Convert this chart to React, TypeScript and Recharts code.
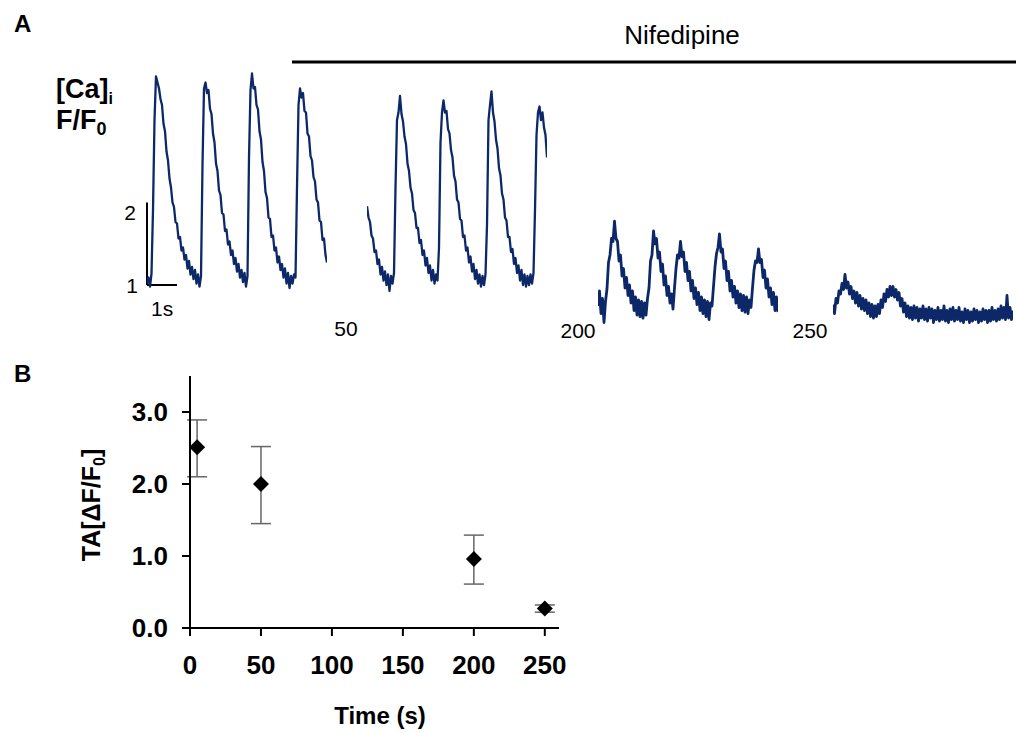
import React from 'react';
import { LineChart, Line, XAxis, YAxis, ReferenceLine, ScatterChart, Scatter, ErrorBar } from 'recharts';

// ---------- Panel A: [Ca]i traces (F/F0), sampled every 0.05 s ----------
const sampleStep = 0.05; // s
const traceControl = [
  1.02, 1.10, 0.98, 1.15, 2.0, 3.2, 3.78, 3.70, 3.62, 3.48,
  3.40, 3.15, 3.05, 2.78, 2.66, 2.42, 2.30, 2.10, 2.04, 1.84,
  1.82, 1.62, 1.64, 1.46, 1.50, 1.34, 1.40, 1.22, 1.32, 1.14,
  1.24, 1.08, 1.20, 1.02, 1.14, 0.98, 1.12, 2.6, 3.62, 3.70,
  3.56, 3.60, 3.35, 3.28, 3.02, 2.90, 2.62, 2.52, 2.26, 2.20,
  1.96, 1.94, 1.72, 1.74, 1.54, 1.58, 1.40, 1.46, 1.28, 1.36,
  1.18, 1.28, 1.10, 1.20, 1.04, 1.16, 0.98, 1.12, 2.7, 3.60,
  3.82, 3.62, 3.64, 3.40, 3.34, 3.05, 2.94, 2.64, 2.52, 2.24,
  2.16, 1.90, 1.88, 1.64, 1.66, 1.46, 1.50, 1.30, 1.38, 1.20,
  1.28, 1.10, 1.22, 1.02, 1.16, 0.96, 1.12, 1.02, 1.14, 1.10,
  2.3, 3.40, 3.62, 3.50, 3.56, 3.32, 3.30, 3.02, 2.98, 2.72,
  2.66, 2.44, 2.38, 2.14, 2.10, 1.86, 1.84, 1.60, 1.62, 1.40,
  1.30];
const trace50 = [
  2.05, 1.90, 1.84, 1.66, 1.62, 1.44, 1.46, 1.28, 1.34, 1.14,
  1.24, 1.06, 1.18, 1.00, 1.14, 0.92, 1.12, 1.02, 1.16, 2.3,
  3.2, 3.30, 3.52, 3.28, 3.18, 2.98, 2.88, 2.62, 2.52, 2.30,
  2.22, 2.00, 1.96, 1.76, 1.76, 1.56, 1.60, 1.40, 1.46, 1.26,
  1.36, 1.16, 1.26, 1.06, 1.20, 1.02, 1.14, 1.06, 1.5, 2.9,
  3.30, 3.46, 3.30, 3.32, 3.08, 3.02, 2.80, 2.70, 2.46, 2.38,
  2.14, 2.10, 1.88, 1.86, 1.64, 1.66, 1.46, 1.50, 1.30, 1.38,
  1.18, 1.28, 1.08, 1.20, 1.02, 1.14, 0.98, 1.12, 1.00, 1.14,
  1.8, 3.2, 3.40, 3.58, 3.30, 3.18, 2.94, 2.82, 2.56, 2.46,
  2.22, 2.14, 1.90, 1.86, 1.64, 1.64, 1.44, 1.48, 1.28, 1.36,
  1.16, 1.26, 1.06, 1.20, 1.00, 1.14, 0.98, 1.12, 1.00, 1.14,
  1.02, 1.16, 2.0, 3.0, 3.30, 3.38, 3.20, 3.30, 3.10, 3.00,
  2.70];
const trace200 = [
  0.72, 0.92, 0.62, 0.82, 0.50, 0.78, 0.95, 1.30, 1.40, 1.62,
  1.58, 1.85, 1.62, 1.58, 1.32, 1.40, 1.12, 1.22, 0.96, 1.10,
  0.86, 1.00, 0.76, 0.92, 0.66, 0.84, 0.60, 0.80, 0.58, 0.78,
  0.56, 0.76, 0.60, 0.82, 0.96, 1.32, 1.40, 1.72, 1.55, 1.62,
  1.36, 1.44, 1.18, 1.28, 1.00, 1.12, 0.86, 0.98, 0.76, 0.88,
  0.68, 0.96, 1.22, 1.40, 1.36, 1.58, 1.38, 1.44, 1.18, 1.30,
  1.06, 1.18, 0.92, 1.06, 0.82, 0.96, 0.74, 0.90, 0.66, 0.84,
  0.62, 0.80, 0.58, 0.78, 0.54, 0.76, 0.72, 0.98, 1.24, 1.42,
  1.50, 1.68, 1.44, 1.48, 1.22, 1.32, 1.06, 1.18, 0.92, 1.06,
  0.84, 0.98, 0.76, 0.92, 0.70, 0.88, 0.66, 0.86, 0.64, 0.84,
  0.62, 0.80, 0.70, 0.96, 1.20, 1.32, 1.30, 1.48, 1.30, 1.34,
  1.10, 1.20, 0.96, 1.08, 0.84, 0.96, 0.74, 0.90, 0.66, 0.84,
  0.64];
const trace250 = [
  0.74, 0.62, 0.82, 0.76, 0.92, 0.88, 1.02, 0.94, 1.14, 0.96,
  1.04, 0.88, 0.98, 0.82, 0.92, 0.76, 0.90, 0.72, 0.86, 0.68,
  0.82, 0.66, 0.80, 0.62, 0.76, 0.58, 0.74, 0.56, 0.72, 0.58,
  0.74, 0.62, 0.80, 0.70, 0.88, 0.78, 0.94, 0.84, 0.98, 0.86,
  0.98, 0.84, 0.94, 0.80, 0.90, 0.72, 0.82, 0.64, 0.76, 0.58,
  0.72, 0.56, 0.70, 0.54, 0.72, 0.56, 0.70, 0.52, 0.68, 0.56,
  0.72, 0.54, 0.68, 0.52, 0.70, 0.56, 0.68, 0.50, 0.66, 0.54,
  0.70, 0.52, 0.66, 0.54, 0.72, 0.52, 0.66, 0.50, 0.68, 0.54,
  0.70, 0.52, 0.66, 0.54, 0.70, 0.52, 0.64, 0.50, 0.68, 0.54,
  0.66, 0.50, 0.64, 0.52, 0.68, 0.54, 0.66, 0.50, 0.64, 0.52,
  0.68, 0.54, 0.66, 0.50, 0.66, 0.52, 0.70, 0.54, 0.66, 0.52,
  0.68, 0.54, 0.72, 0.56, 0.70, 0.54, 0.86, 0.56, 0.70, 0.54,
  0.66];
const segmentLabels = ['', '50', '200', '250'];

// ---------- Panel B: transient amplitude ----------
const timeB = [5, 50, 200, 250];
const taMean = [2.51, 2.0, 0.96, 0.27];
const taErrLow = [0.41, 0.55, 0.35, 0.05];
const taErrHigh = [0.38, 0.52, 0.33, 0.05];
const xTicksB = [0, 50, 100, 150, 200, 250];
const yTicksB = [0, 1, 2, 3];

const TRACE = '#0c2868';
const SANS = "'Liberation Sans', Arial, sans-serif";
const NARROW = "'Liberation Sans Narrow', 'Liberation Sans', Arial, sans-serif";

const toRows = (vals: number[]) => vals.map((v, i) => ({ t: +(i * sampleStep).toFixed(3), v }));

const segLefts = [147, 367, 598, 833];
const segStroke = [2.3, 2.3, 2.8, 2.8];
const traces = [traceControl, trace50, trace200, trace250];

function Segment({ vals, left, withScale, sw }: { vals: number[]; left: number; withScale: boolean; sw: number }) {
  return (
    <div style={{ position: 'absolute', left: left - 5, top: 55 }}>
      <LineChart width={190} height={280} data={toRows(vals)} margin={{ top: 5, right: 5, bottom: 5, left: 5 }}>
        <XAxis hide type="number" dataKey="t" domain={[0, 6]} allowDataOverflow />
        <YAxis hide type="number" domain={[0.4, 4.0]} allowDataOverflow />
        {withScale && (
          <ReferenceLine segment={[{ x: 0, y: 1 }, { x: 0, y: 2.1 }]} stroke="#000" strokeWidth={2} ifOverflow="visible" />
        )}
        {withScale && (
          <ReferenceLine segment={[{ x: 0, y: 1 }, { x: 1, y: 1 }]} stroke="#000" strokeWidth={2} ifOverflow="visible" />
        )}
        <Line type="linear" dataKey="v" stroke={TRACE} strokeWidth={sw} strokeLinejoin="round" dot={false} isAnimationActive={false} />
      </LineChart>
    </div>
  );
}

const Diamond = (props: any) => {
  const { cx, cy } = props;
  const r = 8;
  return <path d={`M${cx},${cy - r}L${cx + r},${cy}L${cx},${cy + r}L${cx - r},${cy}Z`} fill="#000" />;
};

export default function App() {
  const dataB = timeB.map((t, i) => ({ time: t, ta: taMean[i], err: [taErrLow[i], taErrHigh[i]] }));
  const tickStyle = { fontFamily: SANS, fontWeight: 700, fontSize: 26, fill: '#000' };
  return (
    <div style={{ position: 'fixed', left: 0, top: 0, width: 1016, height: 733, background: '#fff', overflow: 'hidden' }}>
      {traces.map((vals, i) => (
        <Segment key={i} vals={vals} left={segLefts[i]} withScale={i === 0} sw={segStroke[i]} />
      ))}

      <div style={{ position: 'absolute', left: 0, top: 360 }}>
        <ScatterChart width={600} height={373} margin={{ top: 16, right: 41, left: 130, bottom: 5 }}>
          <XAxis
            type="number"
            dataKey="time"
            domain={[0, 260]}
            ticks={xTicksB}
            height={100}
            tickSize={8}
            tickMargin={20}
            axisLine={{ stroke: '#000', strokeWidth: 2 }}
            tickLine={{ stroke: '#000', strokeWidth: 2 }}
            tick={tickStyle}
          />
          <YAxis
            type="number"
            dataKey="ta"
            domain={[0, 3.5]}
            ticks={yTicksB}
            width={60}
            tickSize={8}
            tickMargin={14}
            tickFormatter={(v: number) => v.toFixed(1)}
            axisLine={{ stroke: '#000', strokeWidth: 2 }}
            tickLine={{ stroke: '#000', strokeWidth: 2 }}
            tick={tickStyle}
          />
          <Scatter data={dataB} shape={Diamond} isAnimationActive={false}>
            <ErrorBar dataKey="err" direction="y" width={10} stroke="#666" strokeWidth={1.5} />
          </Scatter>
        </ScatterChart>
      </div>

      <svg width={1016} height={733} style={{ position: 'absolute', left: 0, top: 0, pointerEvents: 'none' }}>
        <text x={14} y={32} fontFamily={SANS} fontWeight={700} fontSize={24}>A</text>
        <text x={14} y={382} fontFamily={SANS} fontWeight={700} fontSize={24}>B</text>
        <text x={682} y={44} textAnchor="middle" fontFamily={SANS} fontSize={26}>Nifedipine</text>
        <line x1={292} x2={1016} y1={62} y2={62} stroke="#000" strokeWidth={3} />
        <text x={56} y={98} fontFamily={SANS} fontWeight={700} fontSize={27}>
          [Ca]<tspan fontSize={16} dy={6}>i</tspan>
        </text>
        <text x={56} y={129} fontFamily={SANS} fontWeight={700} fontSize={27}>
          F/F<tspan fontSize={18} dy={6}>0</tspan>
        </text>
        <text x={136} y={220} textAnchor="end" fontFamily={NARROW} fontSize={21}>2</text>
        <text x={138} y={293} textAnchor="end" fontFamily={NARROW} fontSize={21}>1</text>
        <text x={151} y={316} fontFamily={NARROW} fontSize={21}>1s</text>
        <text x={346} y={336} textAnchor="middle" fontFamily={NARROW} fontSize={21}>{segmentLabels[1]}</text>
        <text x={578} y={338} textAnchor="middle" fontFamily={NARROW} fontSize={21}>{segmentLabels[2]}</text>
        <text x={810} y={338} textAnchor="middle" fontFamily={NARROW} fontSize={21}>{segmentLabels[3]}</text>
        <text x={380} y={724} textAnchor="middle" fontFamily={SANS} fontWeight={700} fontSize={24}>Time (s)</text>
        <text transform="translate(100,505) rotate(-90)" textAnchor="middle" fontFamily={SANS} fontWeight={700} fontSize={25}>
          TA[ΔF/F<tspan fontSize={16} dy={5}>0</tspan><tspan dy={-5}>]</tspan>
        </text>
      </svg>
    </div>
  );
}
